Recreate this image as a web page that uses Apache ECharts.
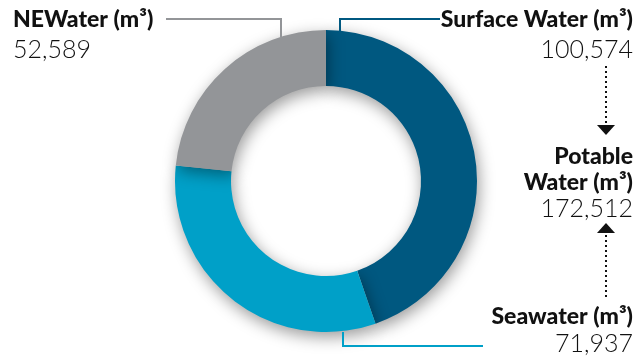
<!DOCTYPE html>
<html><head><meta charset="utf-8">
<script src="https://cdn.jsdelivr.net/npm/echarts@6/dist/echarts.min.js"></script>
<style>html,body{margin:0;padding:0;background:#fff}#c{width:640px;height:360px}</style>
</head><body><div id="c"></div>
<script>
const categories = ['Surface Water (m³)', 'Seawater (m³)', 'NEWater (m³)'];
const values = [100574, 71937, 52589];
const valueLabels = ['100,574', '71,937', '52,589'];
const potableTitle = ['Potable', 'Water (m³)'];
const potableValue = '172,512';
const colors = ['#005880', '#00a0c8', '#939598'];

const chart = echarts.init(document.getElementById('c'), null, {renderer: 'canvas'});
const boldFont = '900 23px Lato, "DejaVu Sans", sans-serif';
const numFont = '300 25px Lato, "DejaVu Sans", sans-serif';
const txt = (t, x, y, align, font) => ({type: 'text', x: x, y: y, z: 10,
  style: {text: t, textAlign: align, textVerticalAlign: 'middle', font: font, fill: '#111'}});
const line = (pts, color, dash) => ({type: 'polyline', z: 5, shape: {points: pts},
  style: {stroke: color, lineWidth: 2, fill: null, lineDash: dash || null}});
const tri = (pts) => ({type: 'polygon', z: 5, shape: {points: pts}, style: {fill: '#111'}});

chart.setOption({
  animation: false,
  series: [{
    type: 'pie',
    center: [326, 181],
    radius: [95, 151],
    startAngle: 90,
    clockwise: true,
    label: {show: false},
    labelLine: {show: false},
    itemStyle: {shadowBlur: 16, shadowColor: 'rgba(0,0,0,0.4)', shadowOffsetX: 2, shadowOffsetY: 5},
    data: categories.map((c, i) => ({name: c, value: values[i], itemStyle: {color: colors[i]}}))
  }],
  graphic: [
    line([[340, 31], [340, 19], [440, 19]], colors[0]),
    line([[281, 37], [281, 19], [166, 19]], colors[2]),
    line([[343, 332], [343, 346], [483, 346]], colors[1]),
    txt(categories[0], 633, 20, 'right', boldFont),
    txt(valueLabels[0], 633, 50, 'right', numFont),
    txt(categories[2], 13, 20, 'left', boldFont),
    txt(valueLabels[2], 13, 50, 'left', numFont),
    txt(categories[1], 633, 317, 'right', boldFont),
    txt(valueLabels[1], 633, 344, 'right', numFont),
    txt(potableTitle[0], 633, 157, 'right', boldFont),
    txt(potableTitle[1], 633, 183, 'right', boldFont),
    txt(potableValue, 633, 209, 'right', numFont),
    line([[606, 66], [606, 124]], '#111', [2, 3]),
    tri([[597, 125], [615, 125], [606, 135]]),
    line([[606, 235], [606, 298]], '#111', [2, 3]),
    tri([[597, 233], [615, 233], [606, 223]])
  ]
});
</script></body></html>
